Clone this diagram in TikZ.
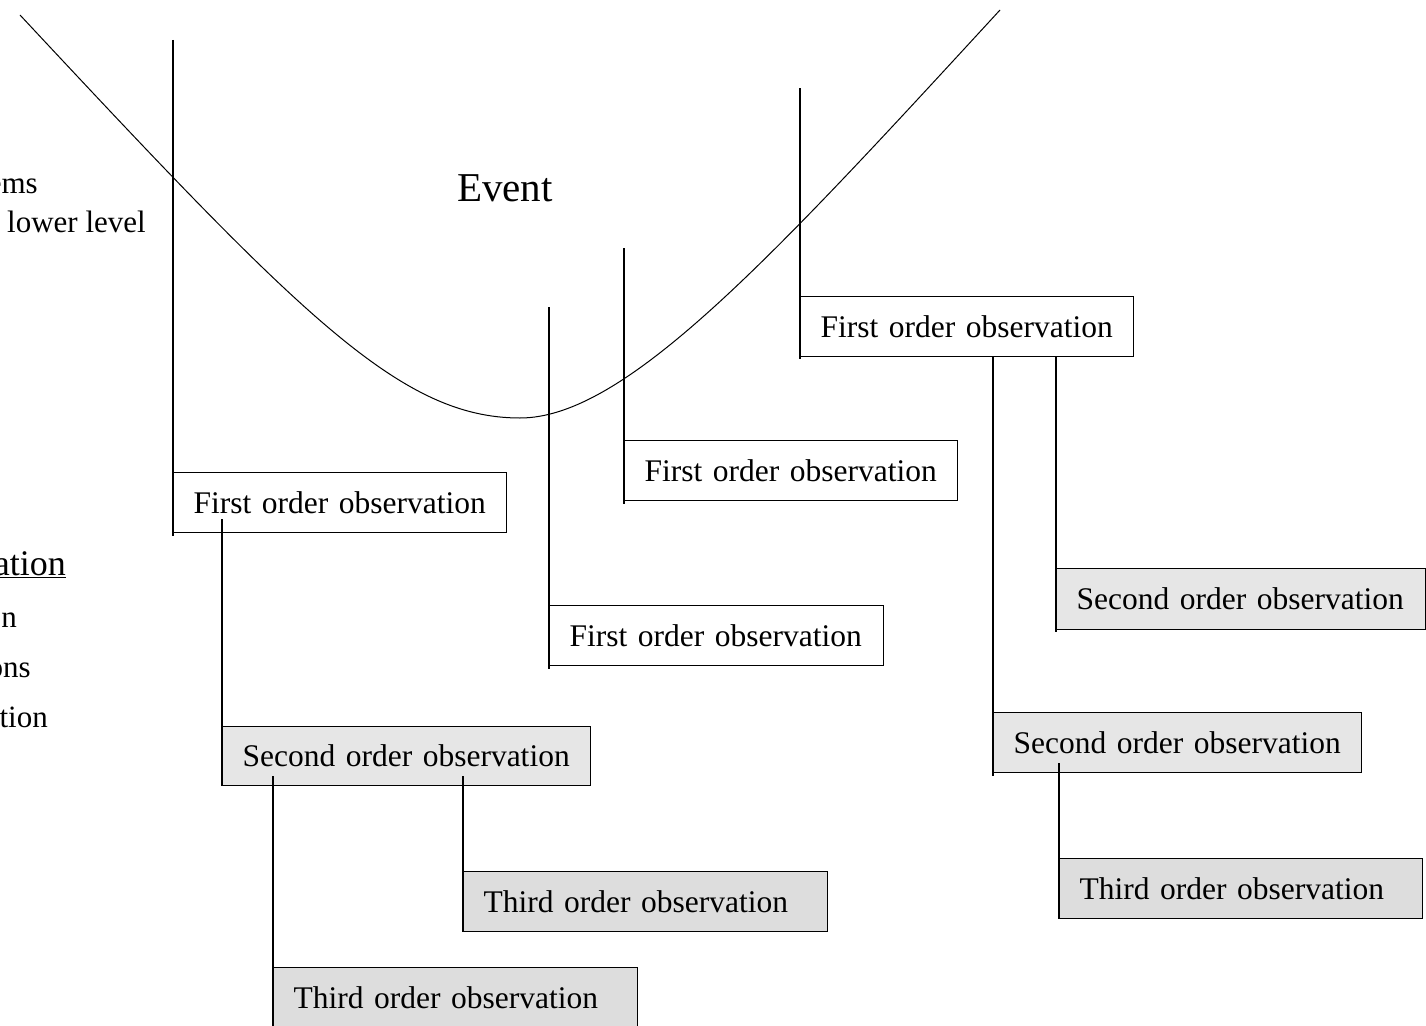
\documentclass[tikz,border=0pt]{standalone}
\usepackage{fontspec}
\setmainfont{Liberation Serif}
\definecolor{secgray}{HTML}{E6E6E6}
\definecolor{thirdgray}{HTML}{DDDDDD}
\begin{document}
\begin{tikzpicture}[x=1pt,y=-1pt,
  obox/.style={draw, line width=1.2pt, anchor=north west, inner xsep=20pt, inner ysep=0pt,
    minimum height=60pt, align=left, font=\fontsize{31.5}{38}\selectfont},
  first/.style={obox, fill=white},
  second/.style={obox, fill=secgray},
  third/.style={obox, fill=thirdgray},
  link/.style={line width=1.2pt},
  sidetext/.style={anchor=base east, inner sep=0pt, font=\fontsize{31}{36}\selectfont}]
\clip (0,0) rectangle (1426,1025);
\fill[white] (0,0) rectangle (1426,1025);

% event curve
\draw[line width=1pt] (20,15) .. controls (300,315) and (400,418) .. (520,418)
  .. controls (625,418) and (770,260) .. (1000,10);

\node[font=\fontsize{41}{48}\selectfont, inner sep=0pt] (event) at (505,188) {Event};

% clipped side texts
\node[sidetext] (s1) at (38,193) {ems};
\node[sidetext] (s2) at (146,232) {lower level};
\node[sidetext, font=\fontsize{36}{42}\selectfont] (s3) at (66,575) {\underline{ation}};
\node[sidetext] (s4) at (17,627) {n};
\node[sidetext] (s5) at (31,677) {ons};
\node[sidetext] (s6) at (48,727) {tion};

% top coordinates
\coordinate (t1) at (173,40);
\coordinate (t2) at (549,307);
\coordinate (t3) at (624,248);
\coordinate (t4) at (800,88);

% first order boxes
\node[first, text width=293pt] (F1) at (173,472) {\mbox{First order observation}};
\node[first, text width=294pt] (F2) at (549,605) {\mbox{First order observation}};
\node[first, text width=293pt] (F3) at (624,440) {\mbox{First order observation}};
\node[first, text width=293pt] (F4) at (800,296) {\mbox{First order observation}};

% second order boxes
\node[second, text width=328pt, minimum height=59pt] (S1) at (222,726) {\mbox{Second order observation}};
\node[second, text width=329pt, minimum height=61pt] (S2) at (1056,568) {\mbox{Second order observation}};
\node[second, text width=328pt] (S3) at (993,712) {\mbox{Second order observation}};

% third order boxes
\node[third, text width=324pt] (T1) at (463,871) {\mbox{Third order observation}};
\node[third, text width=324pt] (T2) at (273,967) {\mbox{Third order observation}};
\node[third, text width=323pt] (T3) at (1059,858) {\mbox{Third order observation}};

% connectors
\draw[link] (t1) -- ([yshift=-3pt]F1.south west);
\draw[link] (t2) -- ([yshift=-3pt]F2.south west);
\draw[link] (t3) -- ([yshift=-3pt]F3.south west);
\draw[link] (t4) -- ([yshift=-2pt]F4.south west);

\draw[link] ([xshift=49pt,yshift=14pt]F1.south west) -- (S1.south west);
\draw[link] ([xshift=51pt,yshift=10pt]S1.south west) -- ([yshift=-5pt]T2.south west);
\draw[link] ([xshift=241pt,yshift=10pt]S1.south west) -- (T1.south west);

\draw[link] ([xshift=193pt]F4.south west) -- ([yshift=-3pt]S3.south west);
\draw[link] ([xshift=256pt]F4.south west) -- ([yshift=-2pt]S2.south west);
\draw[link] ([xshift=66pt,yshift=10pt]S3.south west) -- (T3.south west);
\end{tikzpicture}
\end{document}
